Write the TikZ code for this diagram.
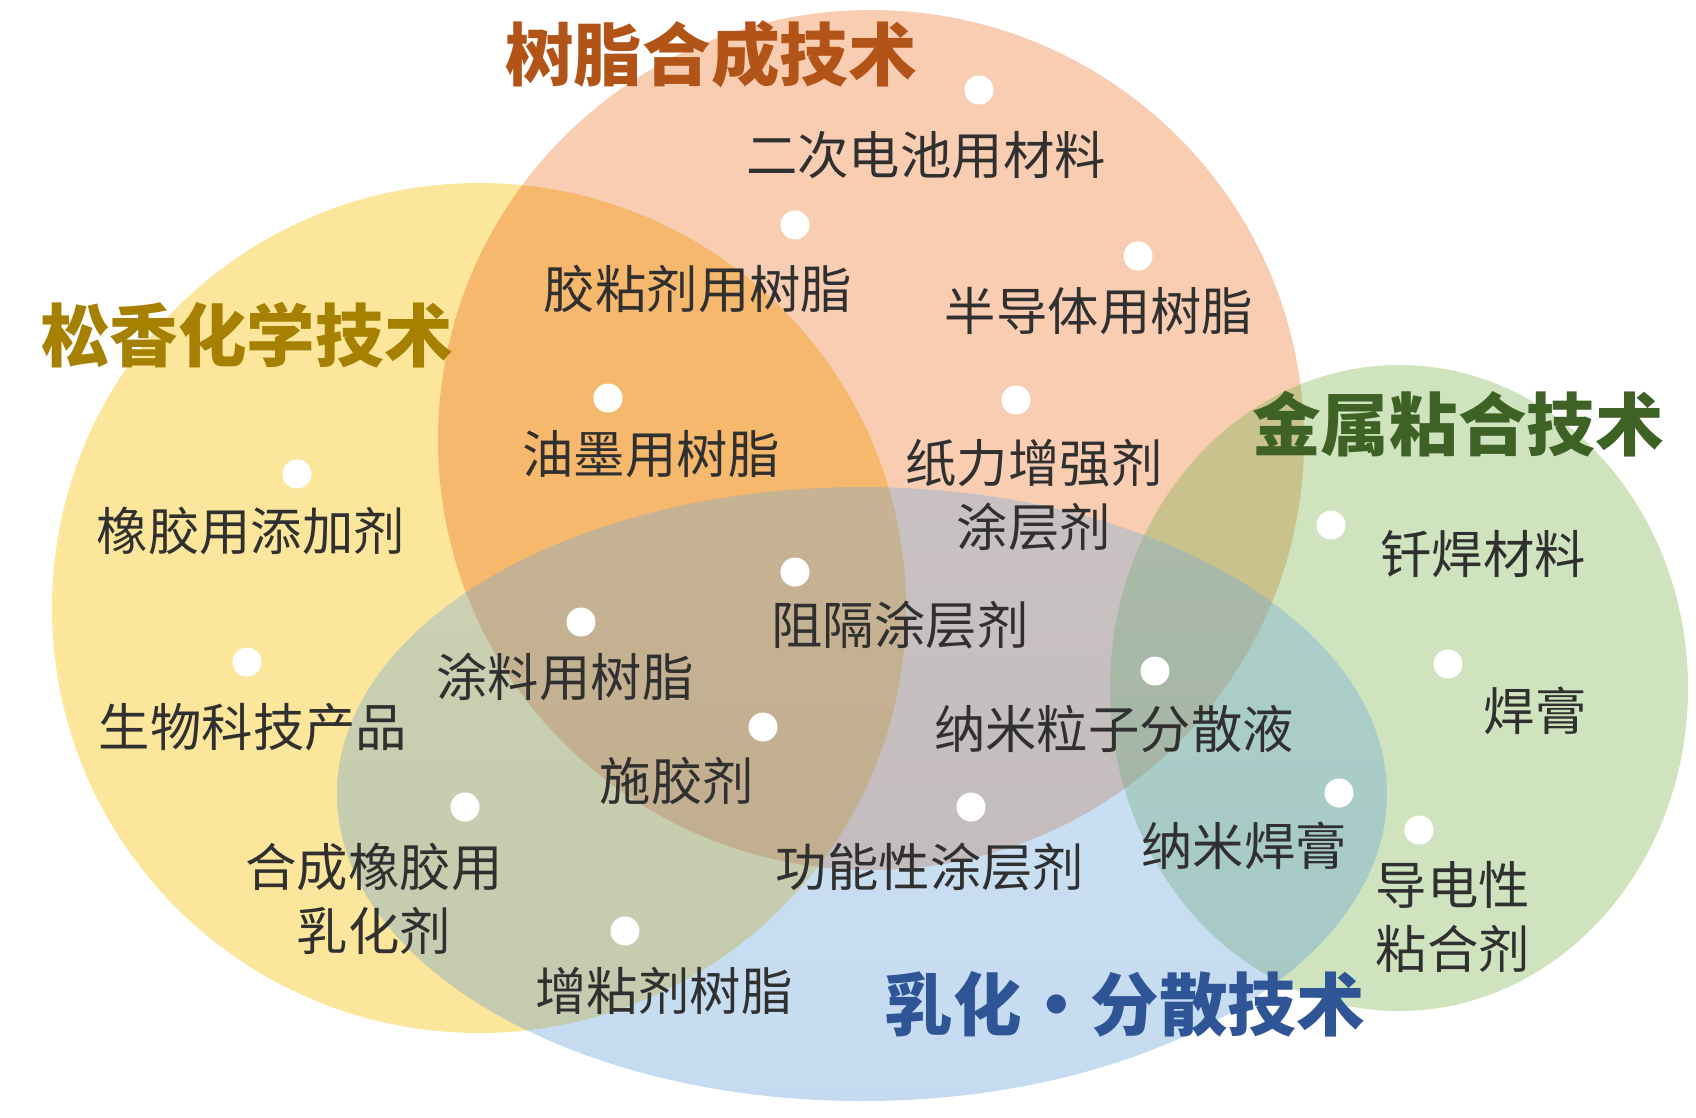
\documentclass[tikz,border=0pt]{standalone}
\usepackage{fontspec}
\setmainfont{Noto Sans CJK SC}
\definecolor{rosinfill}{RGB}{252,230,155}
\definecolor{resinfill}{RGB}{248,205,178}
\definecolor{metalfill}{RGB}{118,175,72}
\definecolor{emultop}{RGB}{112,172,224}
\definecolor{emulbot}{RGB}{84,148,210}
\definecolor{resintitle}{RGB}{178,84,24}
\definecolor{rosintitle}{RGB}{166,128,0}
\definecolor{metaltitle}{RGB}{62,97,38}
\definecolor{emultitle}{RGB}{47,85,151}
\definecolor{labelgray}{RGB}{48,48,48}

\begin{document}
\begin{tikzpicture}[x=0.01cm,y=-0.01cm,
  lbl/.style={text=labelgray,font=\fontsize{14.6}{18.2}\selectfont,align=center,inner sep=0pt},
  ttl/.style={font=\fontsize{19.5}{24}\selectfont\bfseries,inner sep=0pt},
  dot/.style={circle,fill=white,minimum size=2.9mm,inner sep=0pt}]
\useasboundingbox (0,0) rectangle (1696,1117);

% the four fields
\fill[rosinfill] (479,608) ellipse [x radius=427, y radius=425];
\begin{scope}[blend mode=multiply]
\fill[resinfill] (871,440) ellipse [x radius=433, y radius=430];
\end{scope}
\fill[metalfill,opacity=0.35] (1399,688) ellipse [x radius=289, y radius=323];
\shade[top color=emultop,bottom color=emulbot,opacity=0.34] (862,794) ellipse [x radius=525, y radius=307];

% titles
\node[ttl,text=resintitle] (resin) at (711,54) {树脂合成技术};
\node[ttl,text=rosintitle] (rosin) at (247,335) {松香化学技术};
\node[ttl,text=metaltitle] (metal) at (1458,424) {金属粘合技术};
\node[ttl,text=emultitle] (emul) at (1125,1004) {乳化・分散技术};

% products
\node[dot] (d1) at (979,90) {};
\node[lbl] (battery) at (926,155) {二次电池用材料};
\node[dot] (d2) at (795,225) {};
\node[lbl] (adhesive) at (698,289) {胶粘剂用树脂};
\node[dot] (d3) at (1138,256) {};
\node[lbl] (semicon) at (1099,311) {半导体用树脂};
\node[dot] (d4) at (608,398) {};
\node[lbl] (ink) at (651,454) {油墨用树脂};
\node[dot] (d5) at (1016,400) {};
\node[lbl] (paper) at (1034,495) {纸力增强剂\\涂层剂};
\node[dot] (d6) at (297,474) {};
\node[lbl] (rubber) at (251,531) {橡胶用添加剂};
\node[dot] (d7) at (1331,525) {};
\node[lbl] (braze) at (1483,554) {钎焊材料};
\node[dot] (d8) at (795,572) {};
\node[lbl] (barrier) at (900,625) {阻隔涂层剂};
\node[dot] (d9) at (581,622) {};
\node[lbl] (paint) at (565,677) {涂料用树脂};
\node[dot] (d10) at (247,662) {};
\node[lbl] (bio) at (253,727) {生物科技产品};
\node[dot] (d11) at (1448,664) {};
\node[lbl] (paste) at (1535,711) {焊膏};
\node[dot] (d12) at (1155,671) {};
\node[lbl] (nanodisp) at (1114,729) {纳米粒子分散液};
\node[dot] (d13) at (763,727) {};
\node[lbl] (sizing) at (677,781) {施胶剂};
\node[dot] (d14) at (465,807) {};
\node[lbl] (emulsifier) at (374,899) {合成橡胶用\\乳化剂};
\node[dot] (d15) at (971,807) {};
\node[lbl] (functional) at (930,867) {功能性涂层剂};
\node[dot] (d16) at (1339,793) {};
\node[lbl] (nanopaste) at (1244,846) {纳米焊膏};
\node[dot] (d17) at (1419,830) {};
\node[lbl] (conductive) at (1453,917) {导电性\\粘合剂};
\node[dot] (d18) at (625,931) {};
\node[lbl] (tackifier) at (664,991) {增粘剂树脂};
\end{tikzpicture}
\end{document}
